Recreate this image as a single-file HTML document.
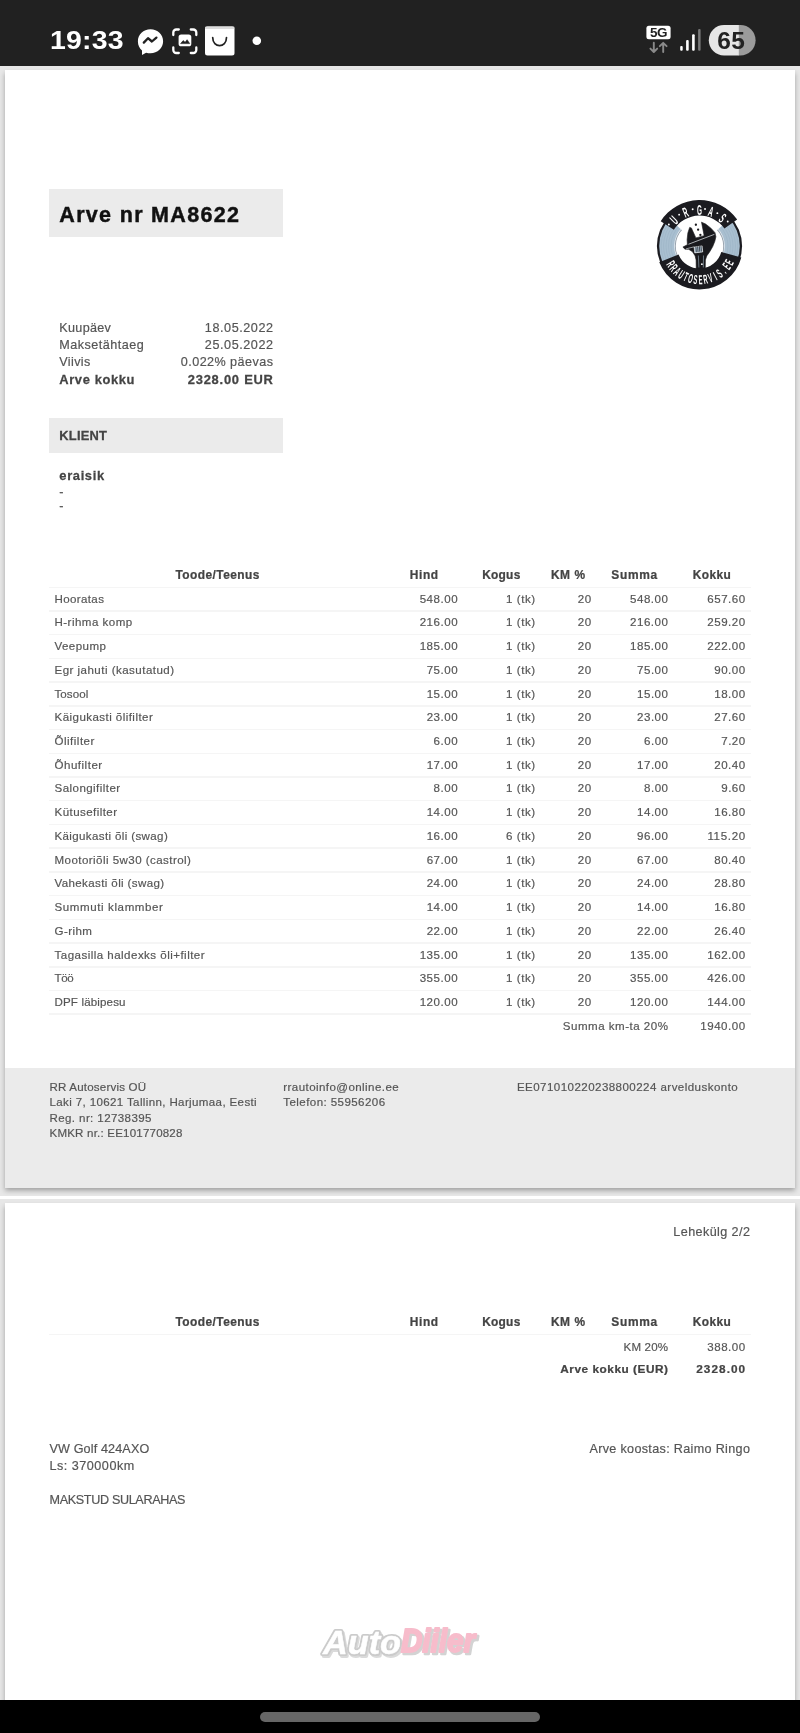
<!DOCTYPE html>
<html lang="et">
<head>
<meta charset="utf-8">
<title>Arve nr MA8622</title>
<style>
*{margin:0;padding:0;box-sizing:border-box}
html,body{width:800px;height:1733px;overflow:hidden}
body{position:relative;background:#fff;font-family:"Liberation Sans",sans-serif;color:#555}
h1{font-size:inherit;font-weight:inherit}
/* viewer backdrop */
.bg{position:absolute;left:0;width:800px;background:#e7e7e7}
.paper{position:absolute;left:5px;width:790px;background:#fff;box-shadow:0 2.5px 5px rgba(0,0,0,.31)}
.clip{position:absolute;left:0;width:800px;overflow:hidden}
/* status / nav */
.status{position:absolute;left:0;top:0;width:800px;height:66px;background:#212121;z-index:5;will-change:transform}
.nav{position:absolute;left:0;top:1700px;width:800px;height:33px;background:#000;z-index:5}
.nav i{position:absolute;left:260px;top:12px;width:280px;height:9.5px;border-radius:5px;background:#666}
/* document */
.t{position:absolute;white-space:nowrap;line-height:16px;height:16px}
.sheet{position:absolute;left:0;top:0;width:800px;height:1733px;will-change:transform;opacity:.999}
.box{position:absolute;background:#ebebeb}
.sep{position:absolute;left:48.5px;width:702px;height:1.5px;background:#f5f5f5}
.foot{position:absolute;left:5px;width:790px;background:#ebebeb}
.logo{position:absolute;left:650px;top:196px;width:100px;height:100px}
.wm{position:absolute;left:310px;top:1615px;width:180px;height:55px}
svg{display:block;overflow:visible}
</style>
</head>
<body>
<div class="clip" style="top:66px;height:1129.5px"><div class="bg" style="top:0;height:1129.5px"></div><div class="paper" style="top:4px;height:1118px"></div></div>
<div class="clip" style="top:1199px;height:501px"><div class="bg" style="top:0;height:501px"></div><div class="paper" style="top:4px;height:520px"></div></div>
<div class="status">
<span class="t" style="left:50px;top:25.4px;font-size:25.5px;line-height:30px;height:30px;color:#fff;font-weight:bold;letter-spacing:0.2px;transform:scaleX(1.115);transform-origin:0 0">19:33</span>
<svg width="800" height="66" viewBox="0 0 800 66" style="position:absolute;left:0;top:0">
<!-- messenger -->
<path d="M150.5 29.3c-7.1 0-12.6 5.2-12.6 12.1 0 3.7 1.6 6.9 4.1 9v4.5l4.1-2.2c1.4.4 2.8.6 4.4.6 7.1 0 12.6-5.2 12.6-12s-5.500-12-12.600-12z" fill="#fff"/>
<path d="M143.800 42.600L148 38.200 151.900 41.500 156.400 37.600" fill="none" stroke="#212121" stroke-width="2.300" stroke-linecap="round" stroke-linejoin="round"/>
<!-- screenshot -->
<g fill="none" stroke="#fff" stroke-width="2.3" stroke-linecap="round">
<path d="M173.300 35v-2.500a3 3 0 0 1 3-3h2.500M190.800 29.500h2.500a3 3 0 0 1 3 3v2.500M196.300 47.500v2.500a3 3 0 0 1-3 3h-2.500M178.800 53h-2.500a3 3 0 0 1-3-3v-2.500"/>
</g>
<rect x="178.600" y="34.500" width="12.700" height="11.800" rx="2.600" fill="#fff"/>
<path d="M180.600 43.600l2.600-3 1.900 1.700 2-2.600 2.600 3.900z" fill="#212121" stroke="#212121" stroke-width="0.600" stroke-linejoin="round"/>
<!-- bag -->
<rect x="205" y="26.500" width="29.500" height="29" rx="2.500" fill="#fff"/>
<rect x="205" y="26.500" width="29.500" height="2.500" rx="1.200" fill="#ddd"/>
<path d="M212.700 37.600c0 10.600 13.800 10.600 13.800 0" fill="none" stroke="#222" stroke-width="1.700" stroke-linecap="round"/>
<!-- dot -->
<circle cx="256.800" cy="40.700" r="4.300" fill="#fff"/>
<!-- 5G -->
<rect x="646.400" y="25.800" width="24.200" height="13.400" rx="2.500" fill="#fff"/>
<text x="658.500" y="37.400" font-family="Liberation Sans, sans-serif" font-weight="bold" font-size="13.500" text-anchor="middle" fill="#212121" letter-spacing="-0.5">5G</text>
<g stroke="#8a8a8a" stroke-width="1.900" fill="none" stroke-linecap="round" stroke-linejoin="round">
<path d="M653.800 42.800v9M650.400 48.600l3.400 3.400 3.400-3.400"/>
<path d="M663.200 52v-9M659.800 46.200l3.400-3.400 3.400 3.400"/>
</g>
<!-- signal -->
<rect x="680.200" y="46" width="2.500" height="4.700" rx="1" fill="#fff"/>
<rect x="686.100" y="40" width="2.600" height="10.700" rx="1" fill="#fff"/>
<rect x="692.100" y="34.300" width="2.600" height="16.400" rx="1" fill="#fff"/>
<rect x="698.100" y="29.100" width="2.500" height="21.600" rx="1" fill="#777"/>
<!-- battery -->
<clipPath id="bat"><rect x="708.800" y="25" width="46.800" height="30.500" rx="15.250"/></clipPath>
<g clip-path="url(#bat)"><rect x="708" y="24" width="31" height="33" fill="#e6e6e6"/><rect x="738.800" y="24" width="18" height="33" fill="#9b9b9b"/></g>
<text x="731.200" y="49.300" font-family="Liberation Sans, sans-serif" font-weight="bold" font-size="24.500" text-anchor="middle" fill="#222" letter-spacing="0.2">65</text>
</svg>
</div>

<div class="sheet" id="p1">
<div class="box" style="left:49px;top:189px;width:234.3px;height:47.8px"></div>
<h1><span class="t" style="left:59.30px;top:206.75px;font-size:21.5px;letter-spacing:1.321px;color:#111;font-weight:bold;-webkit-text-stroke:0.44px;">Arve nr MA8622</span></h1>
<div class="logo"><svg width="100" height="100" viewBox="0 0 100 100" font-family="Liberation Sans, sans-serif" font-weight="bold">
<circle cx="49.5" cy="50.0" r="42.6" fill="#1b1b20"/>
<circle cx="49.5" cy="50.0" r="40.3" fill="#a9bfd0"/>
<circle cx="49.5" cy="50.0" r="28.5" fill="none" stroke="#90aabd" stroke-width="0.45" opacity="0.7"/>
<circle cx="49.5" cy="50.0" r="31" fill="none" stroke="#90aabd" stroke-width="0.45" opacity="0.7"/>
<circle cx="49.5" cy="50.0" r="33.5" fill="none" stroke="#90aabd" stroke-width="0.45" opacity="0.7"/>
<circle cx="49.5" cy="50.0" r="36" fill="none" stroke="#90aabd" stroke-width="0.45" opacity="0.7"/>
<circle cx="49.5" cy="50.0" r="38.3" fill="none" stroke="#90aabd" stroke-width="0.45" opacity="0.7"/>
<circle cx="49.5" cy="50.0" r="25.3" fill="#e9eef2"/>
<circle cx="49.5" cy="50.0" r="24.6" fill="#8e9aa6"/>
<circle cx="49.5" cy="50.0" r="23.8" fill="#fff"/>
<path d="M26.46 29.26A31 31 0 0 1 72.54 29.26L49.50 50.00A0 0 0 0 0 49.50 50.00Z" fill="#fff"/>
<g><path d="M51.50 26.13 L55.63 28.00 L60.88 32.13 L65.00 36.63 L65.90 40.75 L64.85 45.25 L62.75 50.50 L59.75 55.75 L56.75 59.88 L55.40 64.00 L55.25 73.00 L46.25 73.00 L46.10 64.00 L45.13 59.88 L42.50 55.75 L38.75 53.35 L35.00 53.20 L32.90 51.10 L37.40 48.63 L37.10 43.75 L37.85 37.00 L39.65 31.38 L41.38 31.90 L45.88 41.88 L54.13 39.63Z" fill="#19191d" stroke="#19191d" stroke-width="0.6" stroke-linejoin="round"/>
<path d="M38.45 48.25 L64.40 38.35" stroke="#e8eef2" stroke-width="0.7" fill="none"/>
<path d="M35.90 52.90 L44.15 50.80" stroke="#e8eef2" stroke-width="0.6" fill="none"/>
<path d="M44.15 51.10 L52.10 49.90 L52.70 55.90 L44.75 56.88Z" fill="#a9bfd0" stroke="#fff" stroke-width="0.6"/>
<path d="M45.88 50.62 L46.33 56.14" stroke="#19191d" stroke-width="0.7" fill="none"/>
<path d="M47.60 50.36 L48.05 55.94" stroke="#19191d" stroke-width="0.7" fill="none"/>
<path d="M49.33 50.10 L49.78 55.73" stroke="#19191d" stroke-width="0.7" fill="none"/>
<path d="M50.98 49.85 L51.43 55.53" stroke="#19191d" stroke-width="0.7" fill="none"/>
<path d="M48.35 59.50 L48.88 71.50" stroke="#9fb3c2" stroke-width="0.6" fill="none"/>
<path d="M53.53 59.50 L53.30 71.50" stroke="#9fb3c2" stroke-width="0.6" fill="none"/>
<circle cx="51.88" cy="68.13" r="0.9" fill="#fff"/>
<circle cx="45.88" cy="28.75" r="1.15" fill="#19191d"/>
<circle cx="48.13" cy="33.70" r="1.15" fill="#19191d"/>
<circle cx="50.38" cy="38.88" r="1.15" fill="#19191d"/></g>
<path d="M10.70 25.28A46 46 0 0 1 87.18 23.62L74.40 32.56A30.4 30.4 0 0 0 23.86 33.67Z" fill="#1b1b20"/>
<path d="M91.32 61.60A43.4 43.4 0 0 1 9.26 66.26L28.55 58.47A22.6 22.6 0 0 0 71.28 56.04Z" fill="#1b1b20"/>
<text transform="translate(27.49 27.60) rotate(-44.5) scale(0.45 1)" font-size="14.2" text-anchor="middle" fill="#fff">U</text>
<text transform="translate(37.48 20.99) rotate(-22.5) scale(0.45 1)" font-size="14.2" text-anchor="middle" fill="#fff">R</text>
<text transform="translate(49.50 18.60) rotate(0.0) scale(0.45 1)" font-size="14.2" text-anchor="middle" fill="#fff">G</text>
<text transform="translate(59.46 20.22) rotate(18.5) scale(0.45 1)" font-size="14.2" text-anchor="middle" fill="#fff">A</text>
<text transform="translate(69.47 25.77) rotate(39.5) scale(0.45 1)" font-size="14.2" text-anchor="middle" fill="#fff">S</text>
<circle cx="18.86" cy="28.55" r="0.95" fill="#fff"/>
<circle cx="29.13" cy="18.63" r="0.95" fill="#fff"/>
<circle cx="42.68" cy="13.23" r="0.95" fill="#fff"/>
<circle cx="55.03" cy="13.01" r="0.95" fill="#fff"/>
<circle cx="67.35" cy="17.13" r="0.95" fill="#fff"/>
<circle cx="77.73" cy="25.46" r="0.95" fill="#fff"/>
<text transform="translate(17.02 70.30) rotate(58.0) scale(0.44 1)" font-size="13" text-anchor="middle" fill="#fff">R</text>
<text transform="translate(20.39 74.89) rotate(49.5) scale(0.44 1)" font-size="13" text-anchor="middle" fill="#fff">R</text>
<text transform="translate(24.41 78.94) rotate(40.9) scale(0.44 1)" font-size="13" text-anchor="middle" fill="#fff">A</text>
<text transform="translate(28.98 82.34) rotate(32.4) scale(0.44 1)" font-size="13" text-anchor="middle" fill="#fff">U</text>
<text transform="translate(34.01 85.03) rotate(23.9) scale(0.44 1)" font-size="13" text-anchor="middle" fill="#fff">T</text>
<text transform="translate(39.38 86.94) rotate(15.3) scale(0.44 1)" font-size="13" text-anchor="middle" fill="#fff">O</text>
<text transform="translate(44.97 88.03) rotate(6.8) scale(0.44 1)" font-size="13" text-anchor="middle" fill="#fff">S</text>
<text transform="translate(50.67 88.28) rotate(-1.8) scale(0.44 1)" font-size="13" text-anchor="middle" fill="#fff">E</text>
<text transform="translate(56.34 87.68) rotate(-10.3) scale(0.44 1)" font-size="13" text-anchor="middle" fill="#fff">R</text>
<text transform="translate(61.86 86.25) rotate(-18.8) scale(0.44 1)" font-size="13" text-anchor="middle" fill="#fff">V</text>
<text transform="translate(67.10 84.02) rotate(-27.4) scale(0.44 1)" font-size="13" text-anchor="middle" fill="#fff">I</text>
<text transform="translate(71.95 81.03) rotate(-35.9) scale(0.44 1)" font-size="13" text-anchor="middle" fill="#fff">S</text>
<text transform="translate(76.31 77.35) rotate(-44.4) scale(0.44 1)" font-size="13" text-anchor="middle" fill="#fff">.</text>
<text transform="translate(80.07 73.07) rotate(-53.0) scale(0.44 1)" font-size="13" text-anchor="middle" fill="#fff">E</text>
<text transform="translate(83.16 68.28) rotate(-61.5) scale(0.44 1)" font-size="13" text-anchor="middle" fill="#fff">E</text>
</svg></div>
<div class="meta">
<span class="t" style="left:59.30px;top:319.73px;font-size:12.6px;letter-spacing:0.313px;color:#555;-webkit-text-stroke:0.19px;">Kuupäev</span><span class="t" style="left:204.86px;top:319.73px;font-size:12.6px;letter-spacing:0.564px;color:#555;-webkit-text-stroke:0.19px;">18.05.2022</span>
<span class="t" style="left:59.30px;top:337.06px;font-size:12.6px;letter-spacing:0.488px;color:#555;-webkit-text-stroke:0.19px;">Maksetähtaeg</span><span class="t" style="left:204.86px;top:337.06px;font-size:12.6px;letter-spacing:0.564px;color:#555;-webkit-text-stroke:0.19px;">25.05.2022</span>
<span class="t" style="left:59.30px;top:354.39px;font-size:12.6px;letter-spacing:0.354px;color:#555;-webkit-text-stroke:0.19px;">Viivis</span><span class="t" style="left:180.81px;top:354.39px;font-size:12.6px;letter-spacing:0.443px;color:#555;-webkit-text-stroke:0.19px;">0.022% päevas</span>
<span class="t" style="left:59.30px;top:371.62px;font-size:12.9px;letter-spacing:0.621px;color:#444;font-weight:bold;-webkit-text-stroke:0.26px;">Arve kokku</span><span class="t" style="left:187.76px;top:371.62px;font-size:12.9px;letter-spacing:0.779px;color:#444;font-weight:bold;-webkit-text-stroke:0.26px;">2328.00 EUR</span>
</div>
<div class="box" style="left:49px;top:418px;width:234.3px;height:35px"></div>
<span class="t" style="left:59.30px;top:427.53px;font-size:12.9px;letter-spacing:0.210px;color:#444;font-weight:bold;-webkit-text-stroke:0.26px;">KLIENT</span>
<span class="t" style="left:59.30px;top:468.03px;font-size:12.9px;letter-spacing:0.660px;color:#444;font-weight:bold;-webkit-text-stroke:0.26px;">eraisik</span>
<span class="t" style="left:59.30px;top:484.23px;font-size:12.6px;letter-spacing:0.135px;color:#555;-webkit-text-stroke:0.19px;">-</span>
<span class="t" style="left:59.30px;top:498.43px;font-size:12.6px;letter-spacing:0.135px;color:#555;-webkit-text-stroke:0.19px;">-</span>
<div class="thead">
<span class="t" style="left:175.50px;top:566.87px;font-size:11.93px;letter-spacing:0.445px;color:#444;font-weight:bold;-webkit-text-stroke:0.24px;">Toode/Teenus</span>
<span class="t" style="left:409.83px;top:566.87px;font-size:11.93px;letter-spacing:0.609px;color:#444;font-weight:bold;-webkit-text-stroke:0.24px;">Hind</span>
<span class="t" style="left:482.14px;top:566.87px;font-size:11.93px;letter-spacing:0.275px;color:#444;font-weight:bold;-webkit-text-stroke:0.24px;">Kogus</span>
<span class="t" style="left:550.95px;top:566.87px;font-size:11.93px;letter-spacing:0.540px;color:#444;font-weight:bold;-webkit-text-stroke:0.24px;">KM %</span>
<span class="t" style="left:611.33px;top:566.87px;font-size:11.93px;letter-spacing:0.685px;color:#444;font-weight:bold;-webkit-text-stroke:0.24px;">Summa</span>
<span class="t" style="left:692.63px;top:566.87px;font-size:11.93px;letter-spacing:0.447px;color:#444;font-weight:bold;-webkit-text-stroke:0.24px;">Kokku</span>
</div>
<div class="sep" style="top:586.50px"></div>
<div class="tr"><span class="t" style="left:54.50px;top:590.70px;font-size:11.55px;letter-spacing:0.364px;color:#555;-webkit-text-stroke:0.18px;">Hooratas</span><span class="t" style="left:419.64px;top:590.70px;font-size:11.55px;letter-spacing:0.526px;color:#555;-webkit-text-stroke:0.18px;">548.00</span><span class="t" style="left:506.02px;top:590.70px;font-size:11.55px;letter-spacing:0.575px;color:#555;-webkit-text-stroke:0.18px;">1 (tk)</span><span class="t" style="left:577.78px;top:590.70px;font-size:11.55px;letter-spacing:0.574px;color:#555;-webkit-text-stroke:0.18px;">20</span><span class="t" style="left:630.04px;top:590.70px;font-size:11.55px;letter-spacing:0.526px;color:#555;-webkit-text-stroke:0.18px;">548.00</span><span class="t" style="left:707.24px;top:590.70px;font-size:11.55px;letter-spacing:0.526px;color:#555;-webkit-text-stroke:0.18px;">657.60</span></div>
<div class="sep" style="top:610.22px"></div>
<div class="tr"><span class="t" style="left:54.50px;top:614.42px;font-size:11.55px;letter-spacing:0.469px;color:#555;-webkit-text-stroke:0.18px;">H-rihma komp</span><span class="t" style="left:419.64px;top:614.42px;font-size:11.55px;letter-spacing:0.526px;color:#555;-webkit-text-stroke:0.18px;">216.00</span><span class="t" style="left:506.02px;top:614.42px;font-size:11.55px;letter-spacing:0.575px;color:#555;-webkit-text-stroke:0.18px;">1 (tk)</span><span class="t" style="left:577.78px;top:614.42px;font-size:11.55px;letter-spacing:0.574px;color:#555;-webkit-text-stroke:0.18px;">20</span><span class="t" style="left:630.04px;top:614.42px;font-size:11.55px;letter-spacing:0.526px;color:#555;-webkit-text-stroke:0.18px;">216.00</span><span class="t" style="left:707.24px;top:614.42px;font-size:11.55px;letter-spacing:0.526px;color:#555;-webkit-text-stroke:0.18px;">259.20</span></div>
<div class="sep" style="top:633.94px"></div>
<div class="tr"><span class="t" style="left:54.50px;top:638.14px;font-size:11.55px;letter-spacing:0.436px;color:#555;-webkit-text-stroke:0.18px;">Veepump</span><span class="t" style="left:419.64px;top:638.14px;font-size:11.55px;letter-spacing:0.526px;color:#555;-webkit-text-stroke:0.18px;">185.00</span><span class="t" style="left:506.02px;top:638.14px;font-size:11.55px;letter-spacing:0.575px;color:#555;-webkit-text-stroke:0.18px;">1 (tk)</span><span class="t" style="left:577.78px;top:638.14px;font-size:11.55px;letter-spacing:0.574px;color:#555;-webkit-text-stroke:0.18px;">20</span><span class="t" style="left:630.04px;top:638.14px;font-size:11.55px;letter-spacing:0.526px;color:#555;-webkit-text-stroke:0.18px;">185.00</span><span class="t" style="left:707.24px;top:638.14px;font-size:11.55px;letter-spacing:0.526px;color:#555;-webkit-text-stroke:0.18px;">222.00</span></div>
<div class="sep" style="top:657.66px"></div>
<div class="tr"><span class="t" style="left:54.50px;top:661.86px;font-size:11.55px;letter-spacing:0.468px;color:#555;-webkit-text-stroke:0.18px;">Egr jahuti (kasutatud)</span><span class="t" style="left:426.63px;top:661.86px;font-size:11.55px;letter-spacing:0.517px;color:#555;-webkit-text-stroke:0.18px;">75.00</span><span class="t" style="left:506.02px;top:661.86px;font-size:11.55px;letter-spacing:0.575px;color:#555;-webkit-text-stroke:0.18px;">1 (tk)</span><span class="t" style="left:577.78px;top:661.86px;font-size:11.55px;letter-spacing:0.574px;color:#555;-webkit-text-stroke:0.18px;">20</span><span class="t" style="left:637.03px;top:661.86px;font-size:11.55px;letter-spacing:0.517px;color:#555;-webkit-text-stroke:0.18px;">75.00</span><span class="t" style="left:714.23px;top:661.86px;font-size:11.55px;letter-spacing:0.517px;color:#555;-webkit-text-stroke:0.18px;">90.00</span></div>
<div class="sep" style="top:681.38px"></div>
<div class="tr"><span class="t" style="left:54.50px;top:685.58px;font-size:11.55px;letter-spacing:0.073px;color:#555;-webkit-text-stroke:0.18px;">Tosool</span><span class="t" style="left:426.63px;top:685.58px;font-size:11.55px;letter-spacing:0.517px;color:#555;-webkit-text-stroke:0.18px;">15.00</span><span class="t" style="left:506.02px;top:685.58px;font-size:11.55px;letter-spacing:0.575px;color:#555;-webkit-text-stroke:0.18px;">1 (tk)</span><span class="t" style="left:577.78px;top:685.58px;font-size:11.55px;letter-spacing:0.574px;color:#555;-webkit-text-stroke:0.18px;">20</span><span class="t" style="left:637.03px;top:685.58px;font-size:11.55px;letter-spacing:0.517px;color:#555;-webkit-text-stroke:0.18px;">15.00</span><span class="t" style="left:714.23px;top:685.58px;font-size:11.55px;letter-spacing:0.517px;color:#555;-webkit-text-stroke:0.18px;">18.00</span></div>
<div class="sep" style="top:705.10px"></div>
<div class="tr"><span class="t" style="left:54.50px;top:709.30px;font-size:11.55px;letter-spacing:0.442px;color:#555;-webkit-text-stroke:0.18px;">Käigukasti õlifilter</span><span class="t" style="left:426.63px;top:709.30px;font-size:11.55px;letter-spacing:0.517px;color:#555;-webkit-text-stroke:0.18px;">23.00</span><span class="t" style="left:506.02px;top:709.30px;font-size:11.55px;letter-spacing:0.575px;color:#555;-webkit-text-stroke:0.18px;">1 (tk)</span><span class="t" style="left:577.78px;top:709.30px;font-size:11.55px;letter-spacing:0.574px;color:#555;-webkit-text-stroke:0.18px;">20</span><span class="t" style="left:637.03px;top:709.30px;font-size:11.55px;letter-spacing:0.517px;color:#555;-webkit-text-stroke:0.18px;">23.00</span><span class="t" style="left:714.23px;top:709.30px;font-size:11.55px;letter-spacing:0.517px;color:#555;-webkit-text-stroke:0.18px;">27.60</span></div>
<div class="sep" style="top:728.82px"></div>
<div class="tr"><span class="t" style="left:54.50px;top:733.02px;font-size:11.55px;letter-spacing:0.492px;color:#555;-webkit-text-stroke:0.18px;">Õlifilter</span><span class="t" style="left:433.61px;top:733.02px;font-size:11.55px;letter-spacing:0.502px;color:#555;-webkit-text-stroke:0.18px;">6.00</span><span class="t" style="left:506.02px;top:733.02px;font-size:11.55px;letter-spacing:0.575px;color:#555;-webkit-text-stroke:0.18px;">1 (tk)</span><span class="t" style="left:577.78px;top:733.02px;font-size:11.55px;letter-spacing:0.574px;color:#555;-webkit-text-stroke:0.18px;">20</span><span class="t" style="left:644.01px;top:733.02px;font-size:11.55px;letter-spacing:0.502px;color:#555;-webkit-text-stroke:0.18px;">6.00</span><span class="t" style="left:721.21px;top:733.02px;font-size:11.55px;letter-spacing:0.502px;color:#555;-webkit-text-stroke:0.18px;">7.20</span></div>
<div class="sep" style="top:752.54px"></div>
<div class="tr"><span class="t" style="left:54.50px;top:756.74px;font-size:11.55px;letter-spacing:0.505px;color:#555;-webkit-text-stroke:0.18px;">Õhufilter</span><span class="t" style="left:426.63px;top:756.74px;font-size:11.55px;letter-spacing:0.517px;color:#555;-webkit-text-stroke:0.18px;">17.00</span><span class="t" style="left:506.02px;top:756.74px;font-size:11.55px;letter-spacing:0.575px;color:#555;-webkit-text-stroke:0.18px;">1 (tk)</span><span class="t" style="left:577.78px;top:756.74px;font-size:11.55px;letter-spacing:0.574px;color:#555;-webkit-text-stroke:0.18px;">20</span><span class="t" style="left:637.03px;top:756.74px;font-size:11.55px;letter-spacing:0.517px;color:#555;-webkit-text-stroke:0.18px;">17.00</span><span class="t" style="left:714.23px;top:756.74px;font-size:11.55px;letter-spacing:0.517px;color:#555;-webkit-text-stroke:0.18px;">20.40</span></div>
<div class="sep" style="top:776.26px"></div>
<div class="tr"><span class="t" style="left:54.50px;top:780.46px;font-size:11.55px;letter-spacing:0.443px;color:#555;-webkit-text-stroke:0.18px;">Salongifilter</span><span class="t" style="left:433.61px;top:780.46px;font-size:11.55px;letter-spacing:0.502px;color:#555;-webkit-text-stroke:0.18px;">8.00</span><span class="t" style="left:506.02px;top:780.46px;font-size:11.55px;letter-spacing:0.575px;color:#555;-webkit-text-stroke:0.18px;">1 (tk)</span><span class="t" style="left:577.78px;top:780.46px;font-size:11.55px;letter-spacing:0.574px;color:#555;-webkit-text-stroke:0.18px;">20</span><span class="t" style="left:644.01px;top:780.46px;font-size:11.55px;letter-spacing:0.502px;color:#555;-webkit-text-stroke:0.18px;">8.00</span><span class="t" style="left:721.21px;top:780.46px;font-size:11.55px;letter-spacing:0.502px;color:#555;-webkit-text-stroke:0.18px;">9.60</span></div>
<div class="sep" style="top:799.98px"></div>
<div class="tr"><span class="t" style="left:54.50px;top:804.18px;font-size:11.55px;letter-spacing:0.436px;color:#555;-webkit-text-stroke:0.18px;">Kütusefilter</span><span class="t" style="left:426.63px;top:804.18px;font-size:11.55px;letter-spacing:0.517px;color:#555;-webkit-text-stroke:0.18px;">14.00</span><span class="t" style="left:506.02px;top:804.18px;font-size:11.55px;letter-spacing:0.575px;color:#555;-webkit-text-stroke:0.18px;">1 (tk)</span><span class="t" style="left:577.78px;top:804.18px;font-size:11.55px;letter-spacing:0.574px;color:#555;-webkit-text-stroke:0.18px;">20</span><span class="t" style="left:637.03px;top:804.18px;font-size:11.55px;letter-spacing:0.517px;color:#555;-webkit-text-stroke:0.18px;">14.00</span><span class="t" style="left:714.23px;top:804.18px;font-size:11.55px;letter-spacing:0.517px;color:#555;-webkit-text-stroke:0.18px;">16.80</span></div>
<div class="sep" style="top:823.70px"></div>
<div class="tr"><span class="t" style="left:54.50px;top:827.90px;font-size:11.55px;letter-spacing:0.368px;color:#555;-webkit-text-stroke:0.18px;">Käigukasti õli (swag)</span><span class="t" style="left:426.63px;top:827.90px;font-size:11.55px;letter-spacing:0.517px;color:#555;-webkit-text-stroke:0.18px;">16.00</span><span class="t" style="left:506.02px;top:827.90px;font-size:11.55px;letter-spacing:0.575px;color:#555;-webkit-text-stroke:0.18px;">6 (tk)</span><span class="t" style="left:577.78px;top:827.90px;font-size:11.55px;letter-spacing:0.574px;color:#555;-webkit-text-stroke:0.18px;">20</span><span class="t" style="left:637.03px;top:827.90px;font-size:11.55px;letter-spacing:0.517px;color:#555;-webkit-text-stroke:0.18px;">96.00</span><span class="t" style="left:707.38px;top:827.90px;font-size:11.55px;letter-spacing:0.669px;color:#555;-webkit-text-stroke:0.18px;">115.20</span></div>
<div class="sep" style="top:847.42px"></div>
<div class="tr"><span class="t" style="left:54.50px;top:851.62px;font-size:11.55px;letter-spacing:0.443px;color:#555;-webkit-text-stroke:0.18px;">Mootoriõli 5w30 (castrol)</span><span class="t" style="left:426.63px;top:851.62px;font-size:11.55px;letter-spacing:0.517px;color:#555;-webkit-text-stroke:0.18px;">67.00</span><span class="t" style="left:506.02px;top:851.62px;font-size:11.55px;letter-spacing:0.575px;color:#555;-webkit-text-stroke:0.18px;">1 (tk)</span><span class="t" style="left:577.78px;top:851.62px;font-size:11.55px;letter-spacing:0.574px;color:#555;-webkit-text-stroke:0.18px;">20</span><span class="t" style="left:637.03px;top:851.62px;font-size:11.55px;letter-spacing:0.517px;color:#555;-webkit-text-stroke:0.18px;">67.00</span><span class="t" style="left:714.23px;top:851.62px;font-size:11.55px;letter-spacing:0.517px;color:#555;-webkit-text-stroke:0.18px;">80.40</span></div>
<div class="sep" style="top:871.14px"></div>
<div class="tr"><span class="t" style="left:54.50px;top:875.34px;font-size:11.55px;letter-spacing:0.377px;color:#555;-webkit-text-stroke:0.18px;">Vahekasti õli (swag)</span><span class="t" style="left:426.63px;top:875.34px;font-size:11.55px;letter-spacing:0.517px;color:#555;-webkit-text-stroke:0.18px;">24.00</span><span class="t" style="left:506.02px;top:875.34px;font-size:11.55px;letter-spacing:0.575px;color:#555;-webkit-text-stroke:0.18px;">1 (tk)</span><span class="t" style="left:577.78px;top:875.34px;font-size:11.55px;letter-spacing:0.574px;color:#555;-webkit-text-stroke:0.18px;">20</span><span class="t" style="left:637.03px;top:875.34px;font-size:11.55px;letter-spacing:0.517px;color:#555;-webkit-text-stroke:0.18px;">24.00</span><span class="t" style="left:714.23px;top:875.34px;font-size:11.55px;letter-spacing:0.517px;color:#555;-webkit-text-stroke:0.18px;">28.80</span></div>
<div class="sep" style="top:894.86px"></div>
<div class="tr"><span class="t" style="left:54.50px;top:899.06px;font-size:11.55px;letter-spacing:0.601px;color:#555;-webkit-text-stroke:0.18px;">Summuti klammber</span><span class="t" style="left:426.63px;top:899.06px;font-size:11.55px;letter-spacing:0.517px;color:#555;-webkit-text-stroke:0.18px;">14.00</span><span class="t" style="left:506.02px;top:899.06px;font-size:11.55px;letter-spacing:0.575px;color:#555;-webkit-text-stroke:0.18px;">1 (tk)</span><span class="t" style="left:577.78px;top:899.06px;font-size:11.55px;letter-spacing:0.574px;color:#555;-webkit-text-stroke:0.18px;">20</span><span class="t" style="left:637.03px;top:899.06px;font-size:11.55px;letter-spacing:0.517px;color:#555;-webkit-text-stroke:0.18px;">14.00</span><span class="t" style="left:714.23px;top:899.06px;font-size:11.55px;letter-spacing:0.517px;color:#555;-webkit-text-stroke:0.18px;">16.80</span></div>
<div class="sep" style="top:918.58px"></div>
<div class="tr"><span class="t" style="left:54.50px;top:922.78px;font-size:11.55px;letter-spacing:0.412px;color:#555;-webkit-text-stroke:0.18px;">G-rihm</span><span class="t" style="left:426.63px;top:922.78px;font-size:11.55px;letter-spacing:0.517px;color:#555;-webkit-text-stroke:0.18px;">22.00</span><span class="t" style="left:506.02px;top:922.78px;font-size:11.55px;letter-spacing:0.575px;color:#555;-webkit-text-stroke:0.18px;">1 (tk)</span><span class="t" style="left:577.78px;top:922.78px;font-size:11.55px;letter-spacing:0.574px;color:#555;-webkit-text-stroke:0.18px;">20</span><span class="t" style="left:637.03px;top:922.78px;font-size:11.55px;letter-spacing:0.517px;color:#555;-webkit-text-stroke:0.18px;">22.00</span><span class="t" style="left:714.23px;top:922.78px;font-size:11.55px;letter-spacing:0.517px;color:#555;-webkit-text-stroke:0.18px;">26.40</span></div>
<div class="sep" style="top:942.30px"></div>
<div class="tr"><span class="t" style="left:54.50px;top:946.50px;font-size:11.55px;letter-spacing:0.466px;color:#555;-webkit-text-stroke:0.18px;">Tagasilla haldexks õli+filter</span><span class="t" style="left:419.64px;top:946.50px;font-size:11.55px;letter-spacing:0.526px;color:#555;-webkit-text-stroke:0.18px;">135.00</span><span class="t" style="left:506.02px;top:946.50px;font-size:11.55px;letter-spacing:0.575px;color:#555;-webkit-text-stroke:0.18px;">1 (tk)</span><span class="t" style="left:577.78px;top:946.50px;font-size:11.55px;letter-spacing:0.574px;color:#555;-webkit-text-stroke:0.18px;">20</span><span class="t" style="left:630.04px;top:946.50px;font-size:11.55px;letter-spacing:0.526px;color:#555;-webkit-text-stroke:0.18px;">135.00</span><span class="t" style="left:707.24px;top:946.50px;font-size:11.55px;letter-spacing:0.526px;color:#555;-webkit-text-stroke:0.18px;">162.00</span></div>
<div class="sep" style="top:966.02px"></div>
<div class="tr"><span class="t" style="left:54.50px;top:970.22px;font-size:11.55px;letter-spacing:-0.387px;color:#555;-webkit-text-stroke:0.18px;">Töö</span><span class="t" style="left:419.64px;top:970.22px;font-size:11.55px;letter-spacing:0.526px;color:#555;-webkit-text-stroke:0.18px;">355.00</span><span class="t" style="left:506.02px;top:970.22px;font-size:11.55px;letter-spacing:0.575px;color:#555;-webkit-text-stroke:0.18px;">1 (tk)</span><span class="t" style="left:577.78px;top:970.22px;font-size:11.55px;letter-spacing:0.574px;color:#555;-webkit-text-stroke:0.18px;">20</span><span class="t" style="left:630.04px;top:970.22px;font-size:11.55px;letter-spacing:0.526px;color:#555;-webkit-text-stroke:0.18px;">355.00</span><span class="t" style="left:707.24px;top:970.22px;font-size:11.55px;letter-spacing:0.526px;color:#555;-webkit-text-stroke:0.18px;">426.00</span></div>
<div class="sep" style="top:989.74px"></div>
<div class="tr"><span class="t" style="left:54.50px;top:993.94px;font-size:11.55px;letter-spacing:0.157px;color:#555;-webkit-text-stroke:0.18px;">DPF läbipesu</span><span class="t" style="left:419.64px;top:993.94px;font-size:11.55px;letter-spacing:0.526px;color:#555;-webkit-text-stroke:0.18px;">120.00</span><span class="t" style="left:506.02px;top:993.94px;font-size:11.55px;letter-spacing:0.575px;color:#555;-webkit-text-stroke:0.18px;">1 (tk)</span><span class="t" style="left:577.78px;top:993.94px;font-size:11.55px;letter-spacing:0.574px;color:#555;-webkit-text-stroke:0.18px;">20</span><span class="t" style="left:630.04px;top:993.94px;font-size:11.55px;letter-spacing:0.526px;color:#555;-webkit-text-stroke:0.18px;">120.00</span><span class="t" style="left:707.24px;top:993.94px;font-size:11.55px;letter-spacing:0.526px;color:#555;-webkit-text-stroke:0.18px;">144.00</span></div>
<div class="sep" style="top:1013.46px"></div>
<div class="tr"><span class="t" style="left:562.82px;top:1017.86px;font-size:11.55px;letter-spacing:0.498px;color:#555;-webkit-text-stroke:0.18px;">Summa km-ta 20%</span><span class="t" style="left:700.25px;top:1017.86px;font-size:11.55px;letter-spacing:0.533px;color:#555;-webkit-text-stroke:0.18px;">1940.00</span></div>
<div class="foot" style="top:1067.7px;height:120.3px"></div>
<span class="t" style="left:49.50px;top:1079.00px;font-size:11.55px;letter-spacing:0.196px;color:#555;-webkit-text-stroke:0.18px;">RR Autoservis OÜ</span>
<span class="t" style="left:49.50px;top:1094.30px;font-size:11.55px;letter-spacing:0.366px;color:#555;-webkit-text-stroke:0.18px;">Laki 7, 10621 Tallinn, Harjumaa, Eesti</span>
<span class="t" style="left:49.50px;top:1109.60px;font-size:11.55px;letter-spacing:0.394px;color:#555;-webkit-text-stroke:0.18px;">Reg. nr: 12738395</span>
<span class="t" style="left:49.50px;top:1124.90px;font-size:11.55px;letter-spacing:0.194px;color:#555;-webkit-text-stroke:0.18px;">KMKR nr.: EE101770828</span>
<span class="t" style="left:283.30px;top:1079.00px;font-size:11.55px;letter-spacing:0.421px;color:#555;-webkit-text-stroke:0.18px;">rrautoinfo@online.ee</span>
<span class="t" style="left:283.30px;top:1094.30px;font-size:11.55px;letter-spacing:0.421px;color:#555;-webkit-text-stroke:0.18px;">Telefon: 55956206</span>
<span class="t" style="left:516.90px;top:1079.00px;font-size:11.55px;letter-spacing:0.447px;color:#555;-webkit-text-stroke:0.18px;">EE071010220238800224 arvelduskonto</span>
</div>
<div class="sheet" id="p2">
<span class="t" style="left:673.30px;top:1223.83px;font-size:12.6px;letter-spacing:0.412px;color:#555;-webkit-text-stroke:0.19px;">Lehekülg 2/2</span>
<div class="thead">
<span class="t" style="left:175.50px;top:1314.07px;font-size:11.93px;letter-spacing:0.445px;color:#444;font-weight:bold;-webkit-text-stroke:0.24px;">Toode/Teenus</span>
<span class="t" style="left:409.83px;top:1314.07px;font-size:11.93px;letter-spacing:0.609px;color:#444;font-weight:bold;-webkit-text-stroke:0.24px;">Hind</span>
<span class="t" style="left:482.14px;top:1314.07px;font-size:11.93px;letter-spacing:0.275px;color:#444;font-weight:bold;-webkit-text-stroke:0.24px;">Kogus</span>
<span class="t" style="left:550.95px;top:1314.07px;font-size:11.93px;letter-spacing:0.540px;color:#444;font-weight:bold;-webkit-text-stroke:0.24px;">KM %</span>
<span class="t" style="left:611.33px;top:1314.07px;font-size:11.93px;letter-spacing:0.685px;color:#444;font-weight:bold;-webkit-text-stroke:0.24px;">Summa</span>
<span class="t" style="left:692.63px;top:1314.07px;font-size:11.93px;letter-spacing:0.447px;color:#444;font-weight:bold;-webkit-text-stroke:0.24px;">Kokku</span>
</div>
<div class="sep" style="top:1333.90px"></div>
<div class="tr"><span class="t" style="left:623.52px;top:1338.60px;font-size:11.55px;letter-spacing:0.166px;color:#555;-webkit-text-stroke:0.18px;">KM 20%</span><span class="t" style="left:707.24px;top:1338.60px;font-size:11.55px;letter-spacing:0.526px;color:#555;-webkit-text-stroke:0.18px;">388.00</span></div>
<div class="tr"><span class="t" style="left:560.28px;top:1361.00px;font-size:11.82px;letter-spacing:0.526px;color:#444;font-weight:bold;-webkit-text-stroke:0.24px;">Arve kokku (EUR)</span><span class="t" style="left:696.15px;top:1361.00px;font-size:11.82px;letter-spacing:1.056px;color:#444;font-weight:bold;-webkit-text-stroke:0.24px;">2328.00</span></div>
<span class="t" style="left:49.50px;top:1441.43px;font-size:12.6px;letter-spacing:0.134px;color:#555;-webkit-text-stroke:0.19px;">VW Golf 424AXO</span>
<span class="t" style="left:49.50px;top:1458.13px;font-size:12.6px;letter-spacing:0.507px;color:#555;-webkit-text-stroke:0.19px;">Ls: 370000km</span>
<span class="t" style="left:49.50px;top:1491.93px;font-size:12.6px;letter-spacing:-0.337px;color:#555;-webkit-text-stroke:0.19px;">MAKSTUD SULARAHAS</span>
<span class="t" style="left:589.42px;top:1441.43px;font-size:12.6px;letter-spacing:0.330px;color:#555;-webkit-text-stroke:0.19px;">Arve koostas: Raimo Ringo</span>
<div class="wm"><svg width="180" height="55" viewBox="0 0 180 55" font-family="Liberation Sans, sans-serif" font-weight="bold" font-style="italic">
<g stroke-linejoin="round">
<text x="14.600" y="40.600" font-size="34" textLength="78" lengthAdjust="spacingAndGlyphs" fill="#dadada" stroke="#dadada" stroke-width="4">Auto</text>
<text x="13" y="38.800" font-size="34" textLength="78" lengthAdjust="spacingAndGlyphs" fill="#cbcbcb" stroke="#cbcbcb" stroke-width="4.200">Auto</text>
<text x="13" y="38.800" font-size="34" textLength="78" lengthAdjust="spacingAndGlyphs" fill="#fff" stroke="#fff" stroke-width="0.500">Auto</text>
<text x="93" y="38.800" font-size="33.500" textLength="74" lengthAdjust="spacingAndGlyphs" fill="#d3d3d3" stroke="#d3d3d3" stroke-width="2.600">Diiler</text>
<text x="91" y="36.800" font-size="33.500" textLength="74" lengthAdjust="spacingAndGlyphs" fill="#f7bccb" stroke="#f7bccb" stroke-width="2">Diiler</text>
</g>
</svg>
</div>
</div>
<div class="nav"><i></i></div>
</body>
</html>
